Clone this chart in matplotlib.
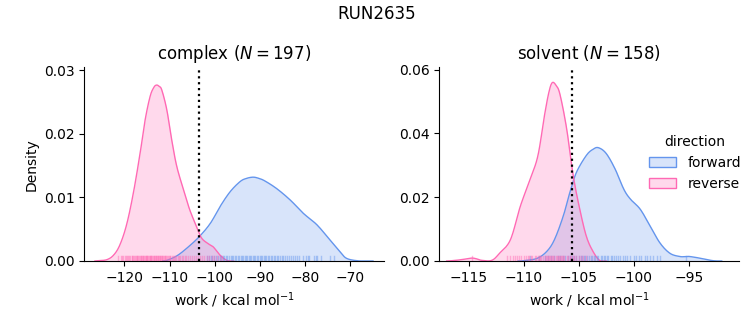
import numpy as np
import matplotlib
matplotlib.use("Agg")
import matplotlib.pyplot as plt
from matplotlib.patches import Patch

# ---- density curves (work in kcal/mol, density) ----
cx_rev_x = [-126.5, -125.8, -123.9, -122.4, -121.0, -119.5, -118.0, -116.5, -115.4, -114.3,
            -113.5, -112.9, -112.3, -111.7, -110.6, -109.5, -108.4, -106.9, -105.5, -104.0,
            -102.9, -101.4, -100.3, -98.8, -97.3, -95.8]
cx_rev_y = [0.0, 0.00005, 0.0002, 0.0009, 0.0025, 0.0057, 0.0107, 0.0170, 0.0222, 0.0259,
            0.0273, 0.0277, 0.0275, 0.0269, 0.0238, 0.0190, 0.0149, 0.0112, 0.0080, 0.0054,
            0.0036, 0.0027, 0.0022, 0.0009, 0.0001, 0.0]

cx_fwd_x = [-111.5, -110.6, -108.4, -106.2, -103.6, -101.0, -98.8, -96.6, -94.4, -93.0,
            -91.5, -90.2, -88.9, -86.3, -83.3, -80.4, -77.4, -74.5, -72.3, -70.8, -67.9, -65.0]
cx_fwd_y = [0.0, 0.0001, 0.0008, 0.0020, 0.0037, 0.0059, 0.0086, 0.0109, 0.0125, 0.0130,
            0.0132, 0.0130, 0.0126, 0.0114, 0.0096, 0.0075, 0.0057, 0.0033, 0.0015, 0.0004, 0.0, 0.0]

sv_rev_x = [-117.0, -116.2, -115.5, -115.0, -114.6, -114.2, -113.8, -112.9, -112.2, -111.2,
            -110.3, -109.4, -108.7, -108.1, -107.7, -107.4, -107.05, -106.7, -106.1, -105.5,
            -104.9, -104.3, -103.7, -103.1, -102.5]
sv_rev_y = [0.0, 0.0002, 0.0005, 0.0008, 0.0009, 0.0006, 0.0002, 0.0002, 0.0024, 0.0067,
            0.0172, 0.0257, 0.0331, 0.0458, 0.0530, 0.0559, 0.0550, 0.0522, 0.0416, 0.0268,
            0.0162, 0.0077, 0.0030, 0.0002, 0.0]

sv_fwd_x = [-110.5, -110.0, -108.8, -107.9, -107.2, -106.4, -105.8, -105.2, -104.3, -103.7,
            -103.2, -102.5, -101.7, -100.9, -100.3, -99.4, -98.5, -97.6, -96.7, -95.8,
            -95.3, -94.9, -94.0, -92.8, -92.0]
sv_fwd_y = [0.0, 0.0001, 0.0008, 0.0030, 0.0067, 0.0141, 0.0215, 0.0278, 0.0331, 0.0350,
            0.0355, 0.0337, 0.0289, 0.0225, 0.0194, 0.0162, 0.0109, 0.0056, 0.0024, 0.0014,
            0.0014, 0.0014, 0.0009, 0.0001, 0.0]

# ---- rug (individual work values, approximate positions) ----
cx_rev_rug = [-121.3, -120.8, -120.5, -120.2, -119.8, -119.6, -119.3, -119.1, -118.9, -118.7,
              -118.4, -118.2, -118.0, -117.9, -117.7, -117.5, -117.3, -117.1, -116.9, -116.8,
              -116.6, -116.4, -116.2, -116.1, -115.9, -115.8, -115.6, -115.5, -115.3, -115.2,
              -115.0, -114.9, -114.7, -114.6, -114.4, -114.3, -114.1, -114.0, -113.8, -113.7,
              -113.5, -113.4, -113.2, -113.1, -112.9, -112.8, -112.6, -112.5, -112.3, -112.2,
              -112.0, -111.9, -111.7, -111.6, -111.4, -111.3, -111.1, -111.0, -110.8, -110.6,
              -110.4, -110.2, -110.0, -109.8, -109.5, -109.3, -109.0, -108.8, -108.5, -108.2,
              -107.9, -107.6, -107.3, -107.0, -106.6, -106.3, -105.9, -105.5, -105.0, -104.6,
              -104.2, -103.8, -103.3, -102.9, -102.3, -101.8, -101.2, -100.7, -100.1, -99.6,
              -98.9, -98.3]
cx_fwd_rug = [-101.8, -101.3, -100.9, -100.5, -100.1, -99.7, -99.2, -98.9, -98.6, -98.2,
              -97.9, -97.5, -97.2, -96.9, -96.5, -96.2, -95.9, -95.5, -95.2, -94.9,
              -94.6, -94.3, -94.0, -93.7, -93.4, -93.1, -92.8, -92.5, -92.2, -91.9,
              -91.6, -91.3, -91.0, -90.7, -90.4, -90.1, -89.8, -89.5, -89.2, -88.9,
              -88.6, -88.3, -88.0, -87.6, -87.3, -87.0, -86.6, -86.3, -85.9, -85.5,
              -85.2, -84.8, -84.4, -84.0, -83.6, -83.1, -82.7, -82.2, -81.8, -81.3,
              -80.5, -79.8, -79.4, -79.1, -78.0, -77.6, -77.3, -76.6, -74.6, -73.6]
sv_rev_rug = [-114.7, -111.5, -111.2, -111.0, -110.8, -110.6, -110.4, -110.2, -110.0, -109.8,
              -109.6, -109.5, -109.3, -109.2, -109.0, -108.9, -108.7, -108.6, -108.5, -108.4,
              -108.2, -108.1, -108.0, -107.9, -107.8, -107.7, -107.6, -107.5, -107.4, -107.3,
              -107.2, -107.1, -107.0, -106.9, -106.8, -106.7, -106.6, -106.5, -106.4, -106.3,
              -106.1, -106.0, -105.8, -105.7, -105.5, -105.4, -105.2, -105.0, -104.8, -104.6,
              -104.3]
sv_fwd_rug = [-109.4, -108.6, -108.1, -107.8, -107.5, -107.2, -106.9, -106.7, -106.4, -106.2,
              -106.0, -105.8, -105.6, -105.4, -105.2, -105.0, -104.8, -104.7, -104.5, -104.4,
              -104.2, -104.1, -103.9, -103.8, -103.6, -103.5, -103.3, -103.2, -103.0, -102.9,
              -102.7, -102.6, -102.4, -102.3, -102.1, -102.0, -101.8, -101.6, -101.4, -101.2,
              -101.0, -100.8, -100.6, -100.3, -100.0, -99.8, -99.5, -99.3, -99.0, -98.8,
              -98.5, -98.2, -97.9, -97.6, -95.2]

# ---- annotations ----
fig_title = "RUN2635"
panel_titles = ["complex ($N = 197$)", "solvent ($N = 158$)"]
vlines = [-103.5, -105.58]
xticks = [[-120, -110, -100, -90, -80, -70], [-115, -110, -105, -100, -95]]
yticks = [[0.0, 0.01, 0.02, 0.03], [0.0, 0.02, 0.04, 0.06]]
xlims = [(-128.85, -62.5), (-117.67, -90.4)]
ylims = [(0, 0.0305), (0, 0.0607)]

BLUE = "#6495ED"
PINK = "#FF69B4"


def smooth(xs, ys, n=12):
    """Catmull-Rom rendering between the read points (display only)."""
    xs = np.asarray(xs, float)
    ys = np.asarray(ys, float)
    px = np.concatenate([[2 * xs[0] - xs[1]], xs, [2 * xs[-1] - xs[-2]]])
    py = np.concatenate([[ys[0]], ys, [ys[-1]]])
    ox, oy = [], []
    t = np.linspace(0, 1, n, endpoint=False)
    for i in range(1, len(px) - 2):
        p0x, p1x, p2x, p3x = px[i - 1:i + 3]
        p0y, p1y, p2y, p3y = py[i - 1:i + 3]
        t2, t3 = t * t, t * t * t
        cx = 0.5 * (2 * p1x + (-p0x + p2x) * t + (2 * p0x - 5 * p1x + 4 * p2x - p3x) * t2
                    + (-p0x + 3 * p1x - 3 * p2x + p3x) * t3)
        cy = 0.5 * (2 * p1y + (-p0y + p2y) * t + (2 * p0y - 5 * p1y + 4 * p2y - p3y) * t2
                    + (-p0y + 3 * p1y - 3 * p2y + p3y) * t3)
        ox.extend(cx)
        oy.extend(cy)
    ox.append(xs[-1])
    oy.append(ys[-1])
    return np.array(ox), np.clip(np.array(oy), 0, None)


fig = plt.figure(figsize=(7.53, 3.25), dpi=100)
W, H = 753, 325
ax1 = fig.add_axes([84.3 / W, 1 - 261 / H, 300 / W, (261 - 67.3) / H])
ax2 = fig.add_axes([439.3 / W, 1 - 261 / H, 300 / W, (261 - 67.3) / H])

panels = [
    (ax1, cx_fwd_x, cx_fwd_y, cx_rev_x, cx_rev_y, cx_fwd_rug, cx_rev_rug),
    (ax2, sv_fwd_x, sv_fwd_y, sv_rev_x, sv_rev_y, sv_fwd_rug, sv_rev_rug),
]

for i, (ax, fx, fy, rx, ry, frug, rrug) in enumerate(panels):
    sfx, sfy = smooth(fx, fy)
    srx, sry = smooth(rx, ry)
    ax.fill_between(sfx, sfy, color=BLUE, alpha=0.25, linewidth=0)
    ax.plot(sfx, sfy, color=BLUE, lw=1)
    ax.fill_between(srx, sry, color=PINK, alpha=0.25, linewidth=0)
    ax.plot(srx, sry, color=PINK, lw=1)
    trans = ax.get_xaxis_transform()
    for v in frug:
        ax.plot([v, v], [0, 0.025], color=BLUE, alpha=0.45, lw=1, transform=trans)
    for v in rrug:
        ax.plot([v, v], [0, 0.025], color=PINK, alpha=0.45, lw=1, transform=trans)
    ax.axvline(vlines[i], color="black", ls=":", lw=1.6)
    ax.set_xlim(*xlims[i])
    ax.set_ylim(*ylims[i])
    ax.set_xticks(xticks[i])
    ax.set_yticks(yticks[i])
    ax.set_title(panel_titles[i], fontsize=12)
    ax.set_xlabel("work / kcal mol$^{-1}$")
    for s in ["top", "right"]:
        ax.spines[s].set_visible(False)

ax1.set_ylabel("Density")
ax2.set_ylabel("")
fig.suptitle(fig_title, fontsize=12, y=0.985)

handles = [Patch(facecolor=(0.392, 0.584, 0.929, 0.25), edgecolor=BLUE, label="forward"),
           Patch(facecolor=(1.0, 0.412, 0.706, 0.25), edgecolor=PINK, label="reverse")]
fig.legend(handles=handles, title="direction", loc="center left",
           bbox_to_anchor=(636 / W, 1 - 163 / H), frameon=False, fontsize=10,
           title_fontsize=10)

fig.savefig("out.png", dpi=100)
